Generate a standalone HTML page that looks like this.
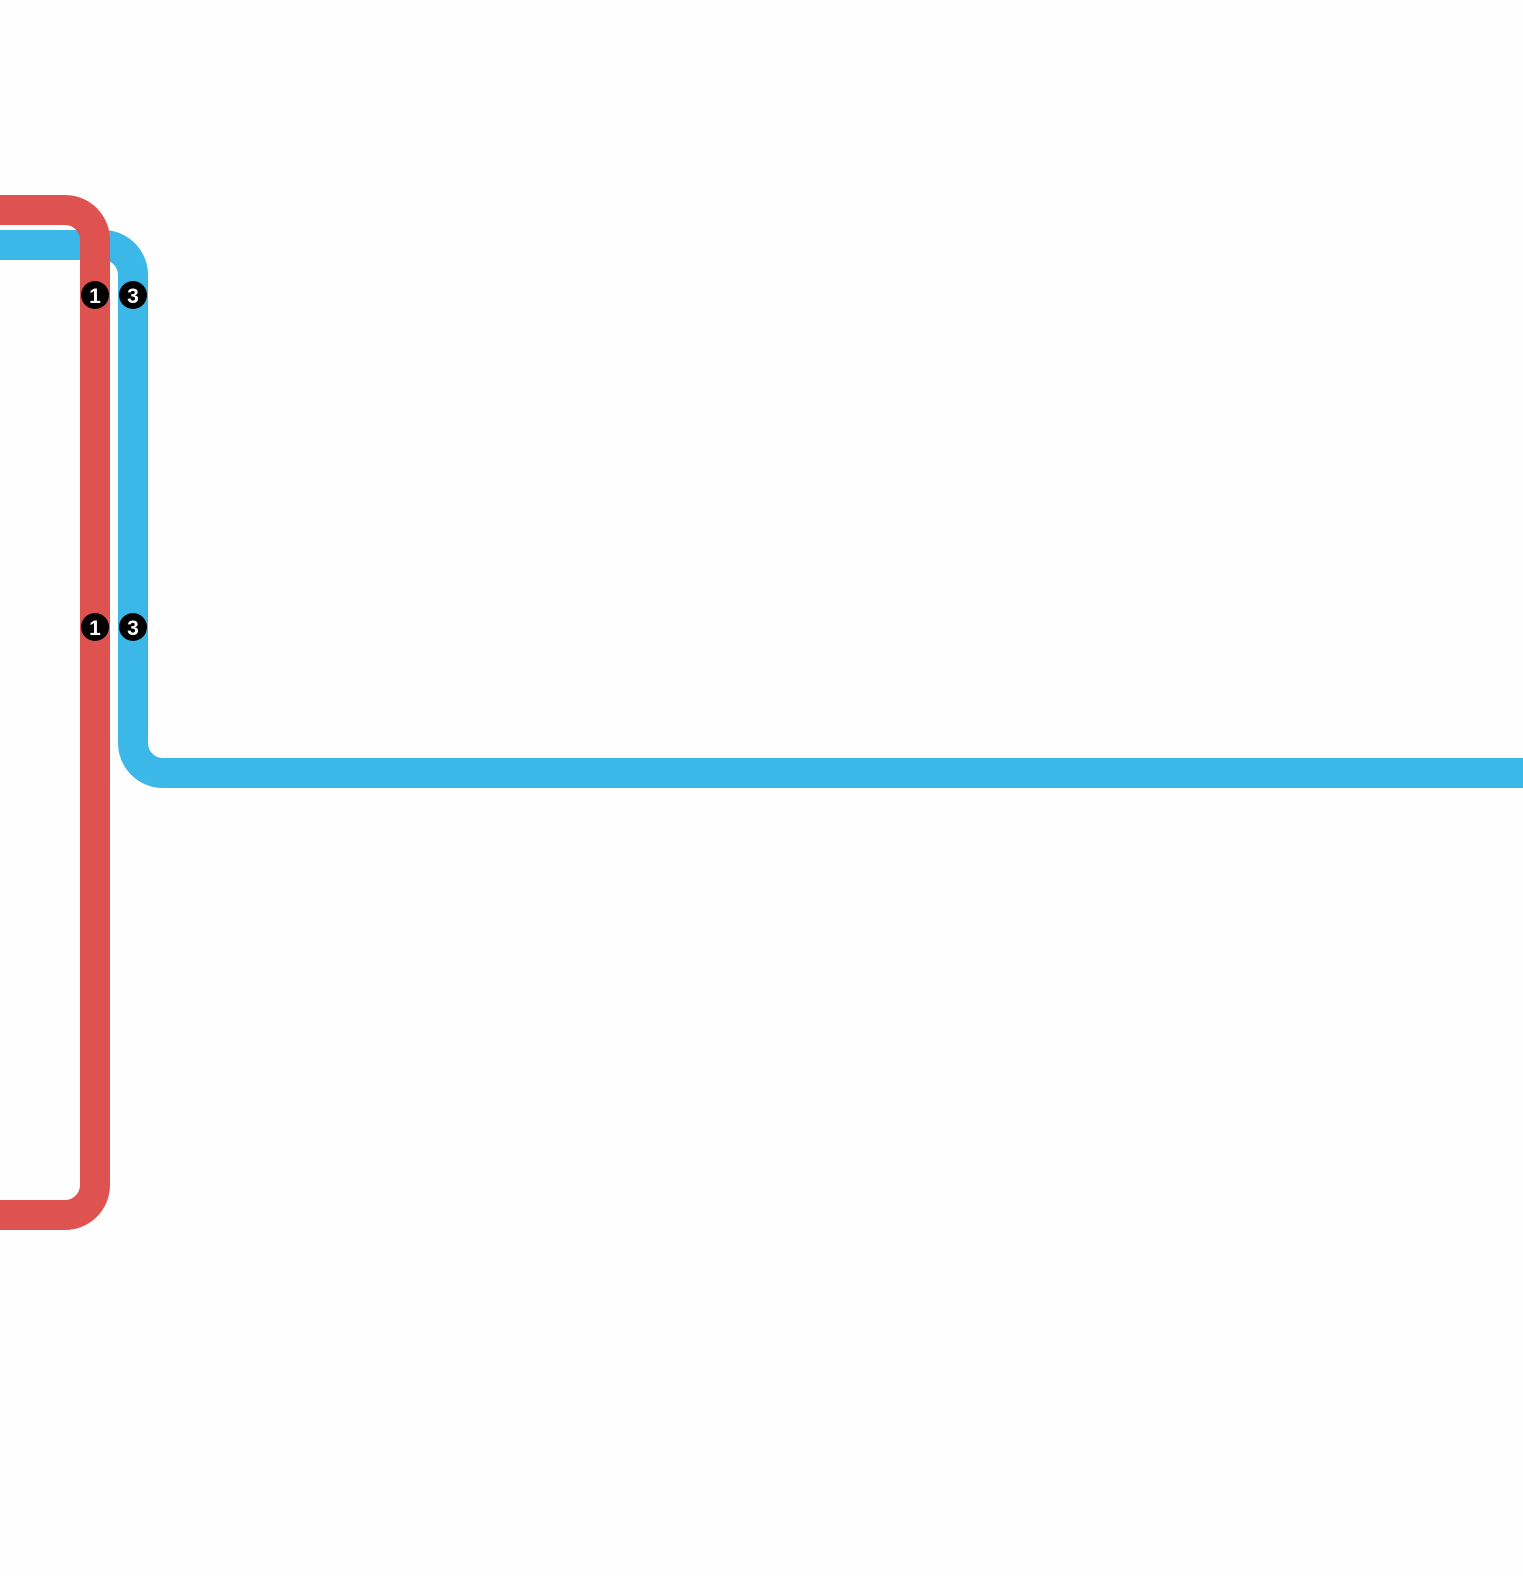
<!DOCTYPE html>
<html><head><style>body{margin:0;background:#fff}</style></head><body>
<svg width="1523" height="1571" xmlns="http://www.w3.org/2000/svg">
<rect width="1523" height="1571" fill="#fefefe"/>
<path d="M0 245 H103 A30 30 0 0 1 133 275 V743 A30 30 0 0 0 163 773 H1523" fill="none" stroke="#3bb8e8" stroke-width="30"/>
<path d="M0 210 H65 A30 30 0 0 1 95 240 V1185 A30 30 0 0 1 65 1215 H0" fill="none" stroke="#de534f" stroke-width="30"/>
<g font-family="Liberation Sans, sans-serif" font-weight="bold" font-size="21" fill="#fff" text-anchor="middle">
<circle cx="95" cy="295" r="14" fill="#000"/><text x="95" y="303">1</text>
<circle cx="133" cy="295" r="14" fill="#000"/><text x="133" y="303">3</text>
<circle cx="95" cy="627" r="14" fill="#000"/><text x="95" y="635">1</text>
<circle cx="133" cy="627" r="14" fill="#000"/><text x="133" y="635">3</text>
</g>
</svg>
</body></html>
